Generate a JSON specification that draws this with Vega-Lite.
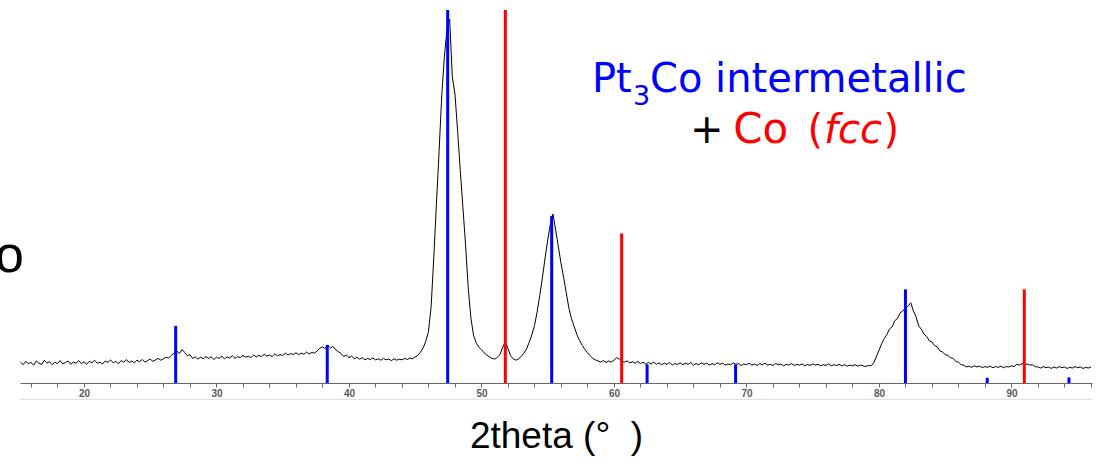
{
  "$schema": "https://vega.github.io/schema/vega-lite/v6.json",
  "autosize": {"type": "none"},
  "padding": {"left": 20, "top": 10, "right": 14, "bottom": 79},
  "width": 1072,
  "height": 373,
  "background": "white",
  "config": {"view": {"stroke": null}},
  "resolve": {"axis": {"x": "independent"}},
  "data": {"values": [
      {"t":15.2,"i":5.6},{"t":15.4,"i":4.9},{"t":15.6,"i":5.8},{"t":15.8,"i":5.2},{"t":16.0,"i":5.5},{"t":16.2,"i":4.8},{"t":16.4,"i":5.9},{"t":16.6,"i":5.3},{"t":16.8,"i":5.0},{"t":17.0,"i":6.1},
      {"t":17.2,"i":5.4},{"t":17.4,"i":5.7},{"t":17.6,"i":4.9},{"t":17.8,"i":5.6},{"t":18.0,"i":5.2},{"t":18.2,"i":6.0},{"t":18.4,"i":5.1},{"t":18.6,"i":5.5},{"t":18.8,"i":5.9},{"t":19.0,"i":5.0},
      {"t":19.2,"i":5.6},{"t":19.4,"i":5.3},{"t":19.6,"i":6.0},{"t":19.8,"i":5.2},{"t":20.0,"i":5.7},{"t":20.2,"i":5.0},{"t":20.4,"i":5.8},{"t":20.6,"i":5.4},{"t":20.8,"i":6.1},{"t":21.0,"i":5.3},
      {"t":21.2,"i":5.6},{"t":21.4,"i":5.1},{"t":21.6,"i":5.9},{"t":21.8,"i":5.5},{"t":22.0,"i":6.2},{"t":22.2,"i":5.4},{"t":22.4,"i":5.8},{"t":22.6,"i":5.2},{"t":22.8,"i":6.0},{"t":23.0,"i":5.6},
      {"t":23.2,"i":6.3},{"t":23.4,"i":5.5},{"t":23.6,"i":5.9},{"t":23.8,"i":5.4},{"t":24.0,"i":6.1},{"t":24.2,"i":5.7},{"t":24.4,"i":6.3},{"t":24.6,"i":5.6},{"t":24.8,"i":6.0},{"t":25.0,"i":6.4},
      {"t":25.2,"i":5.8},{"t":25.4,"i":6.2},{"t":25.6,"i":6.6},{"t":25.8,"i":6.1},{"t":26.0,"i":6.5},{"t":26.2,"i":6.9},{"t":26.4,"i":6.7},{"t":26.6,"i":7.4},{"t":26.8,"i":8.0},{"t":27.0,"i":8.6},
      {"t":27.2,"i":7.9},{"t":27.4,"i":9.0},{"t":27.6,"i":8.2},{"t":27.8,"i":7.3},{"t":28.0,"i":7.6},{"t":28.2,"i":6.6},{"t":28.4,"i":7.0},{"t":28.6,"i":6.4},{"t":28.8,"i":6.9},{"t":29.0,"i":6.5},
      {"t":29.2,"i":7.1},{"t":29.4,"i":6.6},{"t":29.6,"i":7.0},{"t":29.8,"i":6.3},{"t":30.0,"i":6.9},{"t":30.2,"i":6.6},{"t":30.4,"i":7.2},{"t":30.6,"i":6.5},{"t":30.8,"i":7.0},{"t":31.0,"i":6.7},
      {"t":31.2,"i":7.3},{"t":31.4,"i":6.6},{"t":31.6,"i":7.1},{"t":31.8,"i":6.8},{"t":32.0,"i":7.4},{"t":32.2,"i":6.9},{"t":32.4,"i":7.2},{"t":32.6,"i":6.8},{"t":32.8,"i":7.5},{"t":33.0,"i":7.0},
      {"t":33.2,"i":7.4},{"t":33.4,"i":7.1},{"t":33.6,"i":7.7},{"t":33.8,"i":7.2},{"t":34.0,"i":7.5},{"t":34.2,"i":7.1},{"t":34.4,"i":7.8},{"t":34.6,"i":7.3},{"t":34.8,"i":7.6},{"t":35.0,"i":7.4},
      {"t":35.2,"i":8.0},{"t":35.4,"i":7.5},{"t":35.6,"i":7.9},{"t":35.8,"i":7.6},{"t":36.0,"i":8.1},{"t":36.2,"i":7.6},{"t":36.4,"i":8.0},{"t":36.6,"i":7.7},{"t":36.8,"i":8.3},{"t":37.0,"i":7.8},
      {"t":37.2,"i":8.2},{"t":37.4,"i":8.0},{"t":37.6,"i":8.6},{"t":37.8,"i":9.3},{"t":38.0,"i":9.7},{"t":38.2,"i":9.2},{"t":38.4,"i":10.1},{"t":38.6,"i":9.4},{"t":38.8,"i":9.8},{"t":39.0,"i":8.9},
      {"t":39.2,"i":8.4},{"t":39.4,"i":7.9},{"t":39.6,"i":7.1},{"t":39.8,"i":7.5},{"t":40.0,"i":6.8},{"t":40.2,"i":7.2},{"t":40.4,"i":6.5},{"t":40.6,"i":6.9},{"t":40.8,"i":6.4},{"t":41.0,"i":6.8},
      {"t":41.2,"i":6.2},{"t":41.4,"i":6.6},{"t":41.6,"i":6.3},{"t":41.8,"i":6.7},{"t":42.0,"i":6.2},{"t":42.2,"i":6.5},{"t":42.4,"i":6.1},{"t":42.6,"i":6.6},{"t":42.8,"i":6.2},{"t":43.0,"i":6.4},
      {"t":43.2,"i":6.0},{"t":43.4,"i":6.5},{"t":43.6,"i":6.1},{"t":43.8,"i":6.4},{"t":44.0,"i":6.2},{"t":44.2,"i":6.6},{"t":44.4,"i":6.3},{"t":44.6,"i":6.7},{"t":44.8,"i":6.5},{"t":45.0,"i":7.0},
      {"t":45.2,"i":7.4},{"t":45.4,"i":8.3},{"t":45.6,"i":9.4},{"t":45.8,"i":11.2},{"t":46.0,"i":13.8},{"t":46.2,"i":20.5},{"t":46.4,"i":33.5},{"t":46.6,"i":48.0},{"t":46.8,"i":62.0},{"t":47.0,"i":77.0},
      {"t":47.2,"i":87.5},{"t":47.4,"i":95.0},{"t":47.6,"i":97.5},{"t":47.8,"i":82.0},{"t":48.0,"i":77.5},{"t":48.2,"i":67.5},{"t":48.4,"i":57.0},{"t":48.6,"i":47.0},{"t":48.8,"i":37.0},{"t":49.0,"i":25.5},
      {"t":49.2,"i":17.5},{"t":49.4,"i":12.8},{"t":49.6,"i":10.8},{"t":49.8,"i":9.6},{"t":50.0,"i":8.9},{"t":50.2,"i":8.1},{"t":50.4,"i":7.5},{"t":50.6,"i":7.0},{"t":50.8,"i":6.6},{"t":51.0,"i":6.4},
      {"t":51.2,"i":6.9},{"t":51.4,"i":7.6},{"t":51.6,"i":9.6},{"t":51.8,"i":11.0},{"t":52.0,"i":9.2},{"t":52.2,"i":7.3},{"t":52.4,"i":6.5},{"t":52.6,"i":6.1},{"t":52.8,"i":6.5},{"t":53.0,"i":7.1},
      {"t":53.2,"i":8.0},{"t":53.4,"i":9.1},{"t":53.6,"i":10.9},{"t":53.8,"i":12.9},{"t":54.0,"i":15.4},{"t":54.2,"i":19.0},{"t":54.4,"i":23.5},{"t":54.6,"i":28.2},{"t":54.8,"i":33.5},{"t":55.0,"i":38.3},
      {"t":55.2,"i":42.6},{"t":55.4,"i":45.3},{"t":55.6,"i":41.0},{"t":55.8,"i":36.6},{"t":56.0,"i":32.2},{"t":56.2,"i":28.3},{"t":56.4,"i":24.2},{"t":56.6,"i":20.0},{"t":56.8,"i":17.2},{"t":57.0,"i":15.1},
      {"t":57.2,"i":13.0},{"t":57.4,"i":11.4},{"t":57.6,"i":10.1},{"t":57.8,"i":9.0},{"t":58.0,"i":8.1},{"t":58.2,"i":7.3},{"t":58.4,"i":6.6},{"t":58.6,"i":6.2},{"t":58.8,"i":5.9},{"t":59.0,"i":5.6},
      {"t":59.2,"i":6.0},{"t":59.4,"i":5.5},{"t":59.6,"i":5.9},{"t":59.8,"i":5.6},{"t":60.0,"i":6.1},{"t":60.2,"i":6.8},{"t":60.4,"i":6.4},{"t":60.6,"i":5.8},{"t":60.8,"i":5.6},{"t":61.0,"i":5.9},
      {"t":61.2,"i":5.4},{"t":61.4,"i":5.7},{"t":61.6,"i":5.3},{"t":61.8,"i":5.8},{"t":62.0,"i":5.2},{"t":62.2,"i":5.6},{"t":62.4,"i":5.0},{"t":62.6,"i":5.5},{"t":62.8,"i":5.1},{"t":63.0,"i":5.6},
      {"t":63.2,"i":5.0},{"t":63.4,"i":5.4},{"t":63.6,"i":4.9},{"t":63.8,"i":5.3},{"t":64.0,"i":5.0},{"t":64.2,"i":5.5},{"t":64.4,"i":4.8},{"t":64.6,"i":5.2},{"t":64.8,"i":5.0},{"t":65.0,"i":5.4},
      {"t":65.2,"i":4.9},{"t":65.4,"i":5.3},{"t":65.6,"i":5.0},{"t":65.8,"i":5.5},{"t":66.0,"i":4.8},{"t":66.2,"i":5.2},{"t":66.4,"i":4.9},{"t":66.6,"i":5.4},{"t":66.8,"i":5.0},{"t":67.0,"i":5.3},
      {"t":67.2,"i":4.8},{"t":67.4,"i":5.2},{"t":67.6,"i":4.9},{"t":67.8,"i":5.4},{"t":68.0,"i":5.0},{"t":68.2,"i":5.3},{"t":68.4,"i":4.8},{"t":68.6,"i":5.1},{"t":68.8,"i":4.9},{"t":69.0,"i":5.4},
      {"t":69.2,"i":5.0},{"t":69.4,"i":5.2},{"t":69.6,"i":4.7},{"t":69.8,"i":5.1},{"t":70.0,"i":4.9},{"t":70.2,"i":5.3},{"t":70.4,"i":4.8},{"t":70.6,"i":5.1},{"t":70.8,"i":4.7},{"t":71.0,"i":5.2},
      {"t":71.2,"i":4.9},{"t":71.4,"i":5.3},{"t":71.6,"i":4.8},{"t":71.8,"i":5.0},{"t":72.0,"i":4.7},{"t":72.2,"i":5.2},{"t":72.4,"i":4.9},{"t":72.6,"i":5.1},{"t":72.8,"i":4.6},{"t":73.0,"i":5.0},
      {"t":73.2,"i":4.8},{"t":73.4,"i":5.2},{"t":73.6,"i":4.7},{"t":73.8,"i":5.0},{"t":74.0,"i":4.8},{"t":74.2,"i":5.1},{"t":74.4,"i":4.6},{"t":74.6,"i":5.0},{"t":74.8,"i":4.7},{"t":75.0,"i":5.1},
      {"t":75.2,"i":4.8},{"t":75.4,"i":5.0},{"t":75.6,"i":4.6},{"t":75.8,"i":4.9},{"t":76.0,"i":4.7},{"t":76.2,"i":5.1},{"t":76.4,"i":4.6},{"t":76.6,"i":4.9},{"t":76.8,"i":4.7},{"t":77.0,"i":5.0},
      {"t":77.2,"i":4.6},{"t":77.4,"i":4.9},{"t":77.6,"i":4.5},{"t":77.8,"i":4.8},{"t":78.0,"i":4.6},{"t":78.2,"i":4.9},{"t":78.4,"i":4.5},{"t":78.6,"i":4.8},{"t":78.8,"i":4.6},{"t":79.0,"i":4.4},
      {"t":79.2,"i":4.7},{"t":79.4,"i":4.6},{"t":79.6,"i":5.4},{"t":79.8,"i":7.0},{"t":80.0,"i":8.7},{"t":80.2,"i":10.5},{"t":80.4,"i":11.9},{"t":80.6,"i":13.0},{"t":80.8,"i":14.5},{"t":81.0,"i":15.1},
      {"t":81.2,"i":16.7},{"t":81.4,"i":17.3},{"t":81.6,"i":18.8},{"t":81.8,"i":19.3},{"t":82.0,"i":20.2},{"t":82.2,"i":20.6},{"t":82.4,"i":21.5},{"t":82.6,"i":19.3},{"t":82.8,"i":17.8},{"t":83.0,"i":15.3},
      {"t":83.2,"i":14.4},{"t":83.4,"i":13.1},{"t":83.6,"i":12.5},{"t":83.8,"i":11.3},{"t":84.0,"i":11.0},{"t":84.2,"i":10.0},{"t":84.4,"i":9.7},{"t":84.6,"i":8.6},{"t":84.8,"i":8.3},{"t":85.0,"i":7.6},
      {"t":85.2,"i":7.4},{"t":85.4,"i":6.8},{"t":85.6,"i":6.6},{"t":85.8,"i":5.8},{"t":86.0,"i":5.6},{"t":86.2,"i":4.9},{"t":86.4,"i":4.8},{"t":86.6,"i":4.3},{"t":86.8,"i":4.5},{"t":87.0,"i":4.2},
      {"t":87.2,"i":4.6},{"t":87.4,"i":4.3},{"t":87.6,"i":4.5},{"t":87.8,"i":4.1},{"t":88.0,"i":4.4},{"t":88.2,"i":4.2},{"t":88.4,"i":4.5},{"t":88.6,"i":4.1},{"t":88.8,"i":4.4},{"t":89.0,"i":4.2},
      {"t":89.2,"i":4.5},{"t":89.4,"i":4.1},{"t":89.6,"i":4.4},{"t":89.8,"i":4.3},{"t":90.0,"i":4.6},{"t":90.2,"i":4.4},{"t":90.4,"i":5.0},{"t":90.6,"i":4.8},{"t":90.8,"i":5.2},{"t":91.0,"i":4.9},
      {"t":91.2,"i":5.1},{"t":91.4,"i":4.8},{"t":91.6,"i":4.9},{"t":91.8,"i":4.4},{"t":92.0,"i":4.3},{"t":92.2,"i":4.0},{"t":92.4,"i":4.4},{"t":92.6,"i":4.1},{"t":92.8,"i":4.3},{"t":93.0,"i":3.9},
      {"t":93.2,"i":4.3},{"t":93.4,"i":4.0},{"t":93.6,"i":4.4},{"t":93.8,"i":4.1},{"t":94.0,"i":4.3},{"t":94.2,"i":3.9},{"t":94.4,"i":4.2},{"t":94.6,"i":4.0},{"t":94.8,"i":4.4},{"t":95.0,"i":4.1},
      {"t":95.2,"i":4.3},{"t":95.4,"i":3.9},{"t":95.6,"i":4.2},{"t":95.8,"i":4.0},{"t":96.0,"i":4.3}
  ]},
  "layer": [
    {
      "mark": {"type": "line", "color": "black", "strokeWidth": 1},
      "encoding": {
        "x": {
          "field": "t", "type": "quantitative",
          "scale": {"domain": [15.17, 96.08], "nice": false, "zero": false},
          "axis": {
            "orient": "bottom",
            "values": [20,30,40,50,60,70,80,90],
            "labelOverlap": false,
            "labelFlush": false,
            "grid": false,
            "domainColor": "#666666",
            "tickColor": "#666666",
            "tickSize": 4,
            "labelFont": "Liberation Sans",
            "labelFontSize": 10,
            "labelFontWeight": "bold",
            "labelColor": "#5a5a5a",
            "labelPadding": 1,
            "title": "2theta (°\u00a0\u00a0)",
            "titleFont": "Liberation Sans",
            "titleFontSize": 37,
            "titleFontWeight": "normal",
            "titleColor": "black",
            "titleBaseline": "alphabetic",
            "titleY": 64
          }
        },
        "y": {
          "field": "i", "type": "quantitative",
          "scale": {"domain": [0, 100], "nice": false, "zero": false},
          "axis": null
        }
      }
    },
    {
      "data": {"values": [{"a": 1}]},
      "mark": {"type": "rule", "color": "#dddddd", "strokeWidth": 1},
      "encoding": {
        "y": {"datum": -4.37}
      }
    },
    {
      "data": {"values": [
        {"phase":"Pt3Co","t":26.92,"h":15.3},
        {"phase":"Pt3Co","t":38.36,"h":10.2},
        {"phase":"Pt3Co","t":47.45,"h":100},
        {"phase":"Pt3Co","t":55.3,"h":44.8},
        {"phase":"Pt3Co","t":62.5,"h":5.0},
        {"phase":"Pt3Co","t":69.18,"h":5.0},
        {"phase":"Pt3Co","t":82.0,"h":25.1},
        {"phase":"Pt3Co","t":88.17,"h":1.4},
        {"phase":"Pt3Co","t":94.34,"h":1.5},
        {"phase":"Co","t":51.8,"h":100},
        {"phase":"Co","t":60.58,"h":40.1},
        {"phase":"Co","t":90.97,"h":25.1}
      ]},
      "mark": {"type": "rule", "strokeWidth": 3},
      "encoding": {
        "x": {
          "field": "t", "type": "quantitative",
          "axis": {
            "orient": "bottom",
            "values": [16,18,22,24,26,28,32,34,36,38,42,44,46,48,52,54,56,58,62,64,66,68,72,74,76,78,82,84,86,88,92,94,96],
            "labels": false,
            "domain": false,
            "grid": false,
            "title": null,
            "tickColor": "#666666",
            "tickSize": 4
          }
        },
        "y": {"field": "h", "type": "quantitative"},
        "y2": {"datum": 0},
        "color": {"field": "phase", "type": "nominal", "scale": {"domain": ["Pt3Co", "Co"], "range": ["#0000ff", "#ff0000"]}, "legend": null}
      }
    },
    {
      "data": {"values": [{"s": "Pt"}]},
      "mark": {"type": "text", "font": "DejaVu Sans", "fontSize": 40, "color": "#0000ff", "align": "left", "baseline": "alphabetic"},
      "encoding": {"x": {"datum": 58.34, "axis": null}, "y": {"datum": 78.0}, "text": {"field": "s"}}
    },
    {
      "data": {"values": [{"s": "3"}]},
      "mark": {"type": "text", "font": "DejaVu Sans", "fontSize": 27, "color": "#0000ff", "align": "left", "baseline": "alphabetic"},
      "encoding": {"x": {"datum": 61.43, "axis": null}, "y": {"datum": 74.5}, "text": {"field": "s"}}
    },
    {
      "data": {"values": [{"s": "Co intermetallic"}]},
      "mark": {"type": "text", "font": "DejaVu Sans", "fontSize": 40, "color": "#0000ff", "align": "left", "baseline": "alphabetic"},
      "encoding": {"x": {"datum": 62.72, "axis": null}, "y": {"datum": 78.0}, "text": {"field": "s"}}
    },
    {
      "data": {"values": [{"s": "+"}]},
      "mark": {"type": "text", "font": "DejaVu Sans", "fontSize": 40, "color": "black", "align": "left", "baseline": "alphabetic"},
      "encoding": {"x": {"datum": 65.74, "axis": null}, "y": {"datum": 64.3}, "text": {"field": "s"}}
    },
    {
      "data": {"values": [{"s": "Co"}]},
      "mark": {"type": "text", "font": "DejaVu Sans", "fontSize": 42, "color": "#ff0000", "align": "left", "baseline": "alphabetic"},
      "encoding": {"x": {"datum": 69.0, "axis": null}, "y": {"datum": 64.3}, "text": {"field": "s"}}
    },
    {
      "data": {"values": [{"s": "("}]},
      "mark": {"type": "text", "font": "DejaVu Sans", "fontSize": 40, "color": "#ff0000", "align": "left", "baseline": "alphabetic"},
      "encoding": {"x": {"datum": 74.6, "axis": null}, "y": {"datum": 64.3}, "text": {"field": "s"}}
    },
    {
      "data": {"values": [{"s": "fcc"}]},
      "mark": {"type": "text", "font": "DejaVu Sans", "fontStyle": "italic", "fontSize": 40, "color": "#ff0000", "align": "left", "baseline": "alphabetic"},
      "encoding": {"x": {"datum": 75.85, "axis": null}, "y": {"datum": 64.3}, "text": {"field": "s"}}
    },
    {
      "data": {"values": [{"s": ")"}]},
      "mark": {"type": "text", "font": "DejaVu Sans", "fontSize": 40, "color": "#ff0000", "align": "left", "baseline": "alphabetic"},
      "encoding": {"x": {"datum": 80.35, "axis": null}, "y": {"datum": 64.3}, "text": {"field": "s"}}
    },
    {
      "data": {"values": [{"s": "o"}]},
      "mark": {"type": "text", "font": "Liberation Sans", "fontSize": 52, "color": "black", "align": "right", "baseline": "alphabetic"},
      "encoding": {"x": {"datum": 15.47, "axis": null}, "y": {"datum": 29.8}, "text": {"field": "s"}}
    }
  ]
}
